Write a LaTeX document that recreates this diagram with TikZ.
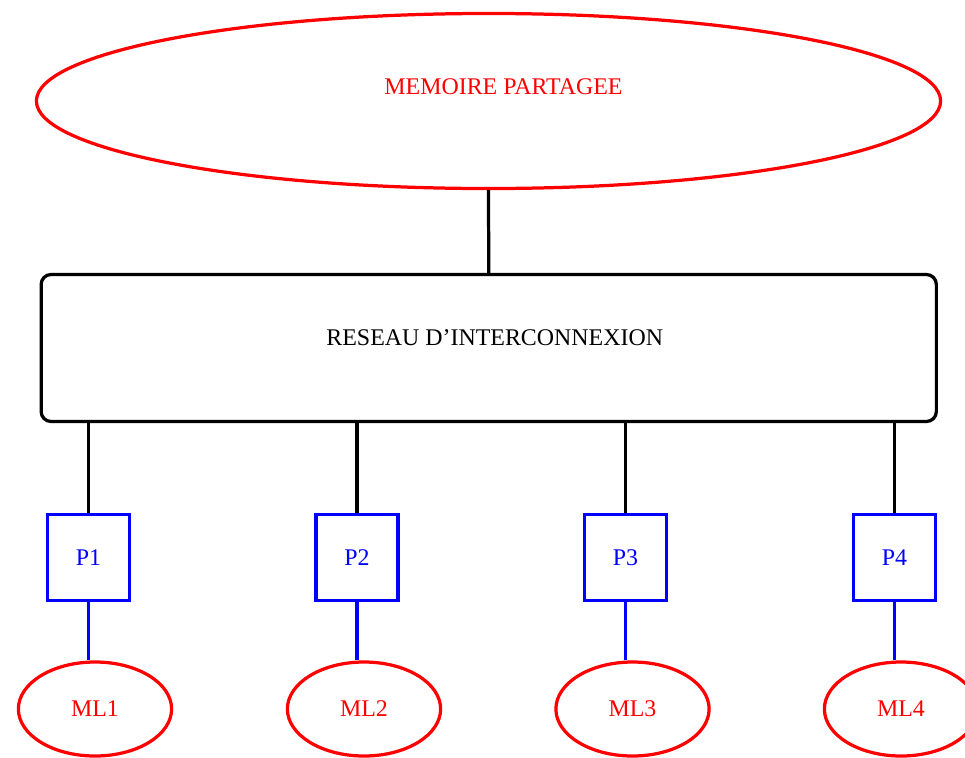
\documentclass[tikz,border=0pt]{standalone}
\usepackage{fontspec}
\setmainfont{Liberation Serif}
\usetikzlibrary{shapes.geometric}

\begin{document}
\begin{tikzpicture}[x=0.025cm,y=-0.025cm,line width=2.3pt,font=\fontsize{17}{20}\selectfont]
\tikzstyle{memnode}=[ellipse,draw=red,minimum width=22.6cm,minimum height=4.375cm]
\tikzstyle{netbox}=[draw,rounded corners=0.25cm,minimum width=22.375cm,minimum height=3.675cm]
\tikzstyle{proc}=[draw=blue,text=blue,minimum width=2.05cm,minimum height=2.15cm]
\tikzstyle{locmem}=[ellipse,draw=red,text=red,minimum width=3.83cm,minimum height=2.35cm]
\useasboundingbox (0,0) rectangle (965,757);
\node[memnode,label={[text=red,xshift=0.375cm,yshift=0.35cm]center:MEMOIRE PARTAGEE}] (mem) at (488.5,101) {};
\node[netbox,label={[xshift=0.15cm,yshift=0.25cm]center:RESEAU D’INTERCONNEXION}] (net) at (488.75,348) {};
\draw (mem.south) -- (net.north);
\foreach \i/\px/\mx in {1/88.5/95,2/357/364,3/625.5/632.5,4/894.5/901}{
    \node[proc] (p\i) at (\px,557.5) {P\i};
    \node[locmem] (ml\i) at (\mx,709) {ML\i};
    \draw (p\i.north) -- (p\i.north |- net.south);
    \draw[blue] (p\i.south) -- (p\i.south |- ml\i.north);
}
\end{tikzpicture}
\end{document}
